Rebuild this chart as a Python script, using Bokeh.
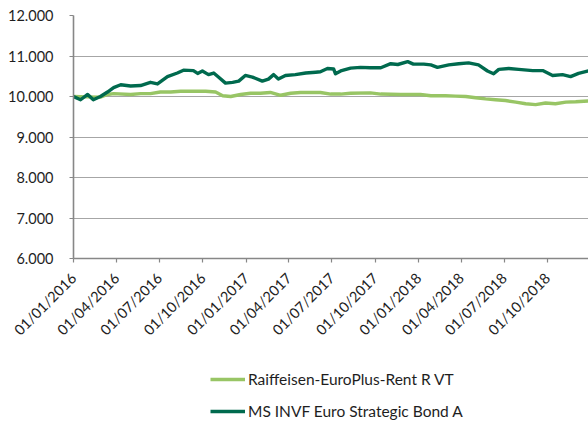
import pandas as pd
from math import pi
from bokeh.plotting import figure
from bokeh.layouts import column
from bokeh.models import (Range1d, FixedTicker, CustomJSTickFormatter, DatetimeTickFormatter,
                          Legend, LegendItem, ColumnDataSource)
from bokeh.embed import file_html
from bokeh.resources import INLINE

# ---- data ----
raiff_dates = ["2016-01-01", "2016-01-31", "2016-02-27", "2016-03-13", "2016-03-26", "2016-05-01",
               "2016-05-22", "2016-06-12", "2016-07-03", "2016-07-25", "2016-08-15", "2016-09-05",
               "2016-10-07", "2016-10-28", "2016-11-12", "2016-11-29", "2016-12-20", "2017-01-10",
               "2017-01-31", "2017-02-21", "2017-03-15", "2017-04-05", "2017-04-26", "2017-06-07",
               "2017-06-29", "2017-07-20", "2017-08-10", "2017-09-21", "2017-10-13", "2017-11-24",
               "2018-01-05", "2018-01-27", "2018-02-27", "2018-03-20", "2018-04-11", "2018-05-02",
               "2018-05-23", "2018-06-13", "2018-07-04", "2018-07-26", "2018-08-16", "2018-09-06",
               "2018-09-27", "2018-10-18", "2018-11-09", "2018-11-30", "2018-12-27"]
raiff_values = [10000, 9990, 9985, 10050, 10070, 10050,
                10070, 10070, 10110, 10110, 10130, 10130,
                10130, 10110, 10020, 10000, 10050, 10080,
                10080, 10100, 10030, 10080, 10100, 10100,
                10060, 10060, 10080, 10090, 10060, 10050,
                10050, 10020, 10020, 10010, 10000, 9970,
                9940, 9920, 9900, 9860, 9820, 9800,
                9840, 9820, 9860, 9870, 9890]

ms_dates = ["2016-01-01", "2016-01-16", "2016-01-31", "2016-02-12", "2016-02-27", "2016-03-13",
            "2016-03-26", "2016-04-10", "2016-05-01", "2016-05-22", "2016-06-12", "2016-06-27",
            "2016-07-18", "2016-08-08", "2016-08-21", "2016-09-11", "2016-09-20", "2016-09-30",
            "2016-10-13", "2016-10-24", "2016-11-03", "2016-11-18", "2016-12-03", "2016-12-16",
            "2016-12-30", "2017-01-14", "2017-02-04", "2017-02-17", "2017-02-28", "2017-03-10",
            "2017-03-25", "2017-04-15", "2017-05-07", "2017-05-28", "2017-06-07", "2017-06-22",
            "2017-07-05", "2017-07-09", "2017-07-20", "2017-08-10", "2017-08-31", "2017-09-21",
            "2017-10-13", "2017-11-03", "2017-11-18", "2017-12-09", "2017-12-21", "2018-01-12",
            "2018-01-27", "2018-02-10", "2018-03-06", "2018-03-27", "2018-04-17", "2018-05-08",
            "2018-05-27", "2018-06-09", "2018-06-20", "2018-07-11", "2018-08-01", "2018-08-31",
            "2018-09-21", "2018-10-12", "2018-11-02", "2018-11-19", "2018-12-06", "2018-12-27"]
ms_values = [10000, 9920, 10050, 9920, 10000, 10110,
             10220, 10290, 10260, 10270, 10350, 10310,
             10490, 10580, 10650, 10640, 10570, 10630,
             10540, 10580, 10480, 10330, 10350, 10380,
             10520, 10480, 10380, 10430, 10540, 10430,
             10520, 10540, 10580, 10600, 10610, 10690,
             10680, 10560, 10630, 10700, 10720, 10710,
             10710, 10810, 10790, 10860, 10800, 10800,
             10780, 10720, 10780, 10810, 10830, 10780,
             10630, 10560, 10670, 10690, 10670, 10640,
             10640, 10520, 10540, 10490, 10570, 10630]

series_names = ["Raiffeisen-EuroPlus-Rent R VT", "MS INVF Euro Strategic Bond A"]
tick_dates = ["2016-01-01", "2016-04-01", "2016-07-01", "2016-10-01", "2017-01-01", "2017-04-01",
              "2017-07-01", "2017-10-01", "2018-01-01", "2018-04-01", "2018-07-01", "2018-10-01"]
y_ticks = [6000, 7000, 8000, 9000, 10000, 11000, 12000]

FONT = "Lato"
AXIS_COLOR = "#878787"
GRID_COLOR = "#a6a6a6"
TEXT_COLOR = "#1e1e1e"
LIGHT = "#98c565"
DARK = "#006a4e"
LW = 3.4

def ms(d):
    return pd.Timestamp(d).value / 1e6

# ---- main chart ----
p = figure(width=588, height=350, x_axis_type="datetime",
           x_range=Range1d(ms("2016-01-01"), ms("2018-12-27")),
           y_range=Range1d(6000, 12000),
           output_backend="svg", toolbar_location=None,
           min_border_left=73, min_border_right=0, min_border_top=15, min_border_bottom=92)
p.outline_line_color = None
p.background_fill_color = "white"
p.border_fill_color = "white"

src1 = ColumnDataSource(dict(x=pd.to_datetime(raiff_dates), y=raiff_values))
src2 = ColumnDataSource(dict(x=pd.to_datetime(ms_dates), y=ms_values))
p.line("x", "y", source=src1, line_color=LIGHT, line_width=LW, line_join="round")
p.line("x", "y", source=src2, line_color=DARK, line_width=LW, line_join="round")

p.xaxis.ticker = FixedTicker(ticks=[ms(d) for d in tick_dates])
fmt = "%d/%m/%Y"
p.xaxis.formatter = DatetimeTickFormatter(years=fmt, months=fmt, days=fmt, hours=fmt,
                                          hourmin=fmt, minutes=fmt, minsec=fmt, seconds=fmt,
                                          milliseconds=fmt, microseconds=fmt)
p.xaxis.major_label_orientation = pi / 4
p.yaxis.ticker = FixedTicker(ticks=y_ticks)
p.yaxis.formatter = CustomJSTickFormatter(code="return (tick/1000).toFixed(3);")

for ax in (p.xaxis[0], p.yaxis[0]):
    ax.axis_line_color = AXIS_COLOR
    ax.axis_line_width = 1.6
    ax.major_tick_line_color = AXIS_COLOR
    ax.major_tick_line_width = 1.2
    ax.major_tick_in = 0
    ax.major_tick_out = 4
    ax.minor_tick_line_color = None
    ax.major_label_text_font = FONT
    ax.major_label_text_font_size = "14.5px"
    ax.major_label_text_color = TEXT_COLOR
p.yaxis.major_label_standoff = 16
p.xaxis.major_label_standoff = 13

p.xgrid.grid_line_color = None
p.ygrid.grid_line_color = GRID_COLOR
p.ygrid.grid_line_width = 1.2

# ---- legend strip below the chart (same data, drawn out of view; only the legend shows) ----
lg = figure(width=588, height=75, output_backend="svg", toolbar_location=None,
            x_range=Range1d(0, 1), y_range=Range1d(0, 1),
            x_axis_location=None, y_axis_location=None,
            min_border_left=0, min_border_right=0, min_border_top=0, min_border_bottom=0)
lg.outline_line_color = None
lg.xgrid.grid_line_color = None
lg.ygrid.grid_line_color = None
k1 = lg.line("x", "y", source=src1, line_color=LIGHT, line_width=LW)
k2 = lg.line("x", "y", source=src2, line_color=DARK, line_width=LW)
legend = Legend(items=[LegendItem(label=series_names[0], renderers=[k1]),
                       LegendItem(label=series_names[1], renderers=[k2])],
                location=(137, 4), orientation="vertical",
                padding=0, margin=0, spacing=12,
                glyph_width=35, glyph_height=20, label_height=20, label_standoff=3,
                label_text_font=FONT, label_text_font_size="15.5px",
                label_text_color=TEXT_COLOR,
                border_line_alpha=0, background_fill_alpha=0)
lg.add_layout(legend, "center")

open("out.html", "w").write(file_html(column(p, lg, spacing=0), INLINE))
